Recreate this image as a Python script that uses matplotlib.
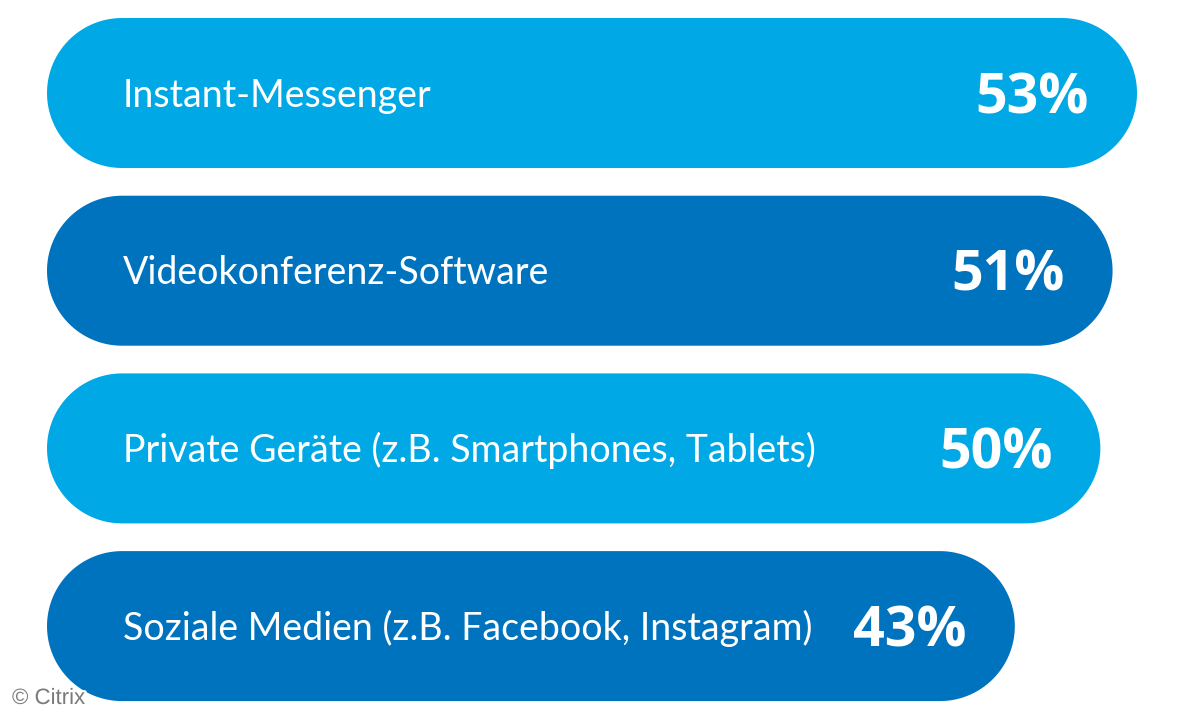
import numpy as np
import matplotlib
matplotlib.use("Agg")
import matplotlib.pyplot as plt
from matplotlib.patches import Polygon
import matplotlib.patheffects as pe

# Survey data: tools used at work
categories = [
    "Instant-Messenger",
    "Videokonferenz-Software",
    "Private Geräte (z.B. Smartphones, Tablets)",
    "Soziale Medien (z.B. Facebook, Instagram)",
]
values = [53, 51, 50, 43]
value_labels = ["53%", "51%", "50%", "43%"]

LIGHT = "#00A9E6"
DARK = "#0073BF"
colors = [LIGHT, DARK, LIGHT, DARK]

W, H, DPI = 1200, 720, 100
fig = plt.figure(figsize=(W / DPI, H / DPI), dpi=DPI)
ax = fig.add_axes([0, 0, 1, 1])

# value axis: pixels per percent point and where the pills start
px_per_unit = 12.22
base = -36.2
left_px = 47
x_min = base - left_px / px_per_unit
x_max = base + (W - left_px) / px_per_unit
ax.set_xlim(x_min, x_max)

# category axis: one unit per row
row_px = 177.7
first_center_px = 93
y_top = -first_center_px / row_px
y_bot = (H - first_center_px) / row_px
ax.set_ylim(y_bot, y_top)
ax.axis("off")

bar_h = 150 / row_px
r_y = bar_h / 2
r_x = (150 / 2) / px_per_unit   # same radius in pixels on both axes


def pill(x0, x1, yc):
    """Outline of a stadium shape from x0 to x1 centred on yc."""
    t = np.linspace(-np.pi / 2, np.pi / 2, 60)
    right = np.column_stack([x1 - r_x + r_x * np.cos(t), yc + r_y * np.sin(t)])
    left = np.column_stack([x0 + r_x - r_x * np.cos(t), yc - r_y * np.sin(t)])
    return np.vstack([right, left])


label_font = "Lato"
value_font = "Open Sans"
for i, (cat, val, lab, col) in enumerate(zip(categories, values, value_labels, colors)):
    ax.add_patch(Polygon(pill(base, val, i), closed=True,
                         facecolor=col, edgecolor="none"))
    ax.text(base + (123 - left_px) / px_per_unit, i + 13.5 / row_px, cat,
            ha="left", va="baseline", color="white",
            fontsize=27, family=label_font)
    ax.text(val - 48 / px_per_unit, i + 20 / row_px, lab,
            ha="right", va="baseline", color="white",
            fontsize=40, fontweight="bold", family=value_font)

fig.text(12 / W, 1 - 704 / H, "© Citrix", ha="left", va="baseline",
         color="#7a7a7a", fontsize=16, family="Liberation Sans",
         path_effects=[pe.withStroke(linewidth=3, foreground="white")])

fig.savefig("out.png", dpi=DPI, facecolor="white")
